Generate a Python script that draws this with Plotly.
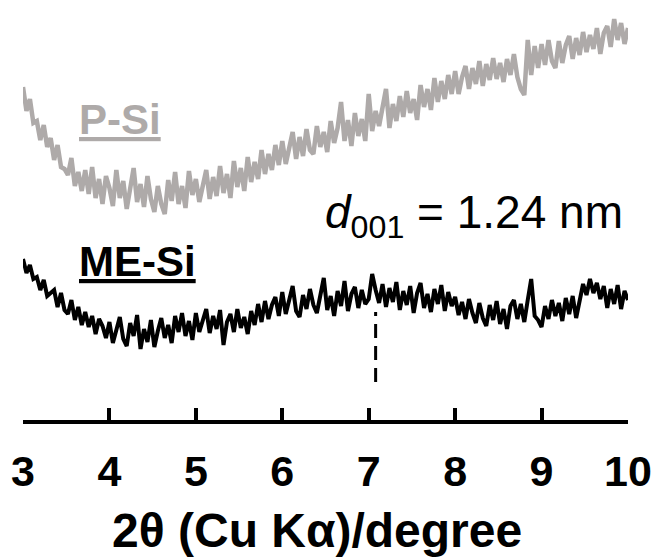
import numpy as np
import plotly.graph_objects as go

# 2-theta grid (degrees), step 0.04
two_theta = np.round(np.arange(0, 176) * 0.04 + 3.0, 2)

# P-Si intensity (a.u., offset trace)
p_si = [
    333, 309, 321, 297, 299, 280, 295, 273, 282, 260, 275, 253, 251, 245, 262, 234, 248, 229, 250, 226, 253, 222, 241, 216, 244,
    232, 214, 250, 222, 239, 211, 230, 252, 218, 236, 213, 244, 221, 208, 234, 216, 206, 240, 219, 248, 216, 234, 212, 249, 225,
    241, 218, 236, 250, 221, 243, 224, 254, 227, 246, 222, 259, 233, 252, 229, 263, 238, 258, 241, 270, 246, 266, 250, 275, 255,
    279, 256, 275, 288, 261, 283, 264, 291, 270, 266, 294, 273, 288, 268, 299, 277, 292, 318, 279, 300, 274, 307, 284, 301, 279,
    326, 289, 309, 294, 314, 331, 292, 316, 299, 324, 303, 329, 307, 321, 300, 335, 313, 331, 310, 342, 318, 339, 321, 345, 326,
    349, 326, 343, 354, 331, 352, 336, 359, 334, 356, 340, 362, 341, 357, 338, 361, 345, 366, 343, 331, 325, 380, 345, 374, 352,
    376, 355, 380, 359, 352, 379, 357, 375, 384, 361, 382, 365, 388, 368, 385, 371, 392, 366, 387, 394, 373, 401, 380, 397, 376,
    392,
]

# ME-Si intensity (a.u., offset trace)
me_si = [
    161, 147, 155, 141, 143, 130, 140, 124, 127, 130, 113, 127, 110, 106, 120, 100, 113, 95, 108, 93, 104, 86, 101, 94, 82,
    98, 77, 92, 103, 81, 74, 97, 84, 105, 71, 91, 78, 100, 73, 89, 102, 82, 95, 77, 104, 88, 107, 84, 99, 80,
    107, 88, 101, 111, 87, 104, 91, 110, 75, 98, 106, 88, 111, 92, 103, 86, 109, 95, 116, 98, 119, 101, 115, 123, 104,
    128, 106, 119, 134, 109, 103, 125, 111, 131, 115, 107, 127, 142, 110, 124, 104, 129, 114, 139, 109, 126, 133, 112, 130, 116,
    121, 146, 130, 117, 136, 113, 132, 118, 138, 110, 129, 115, 134, 107, 127, 137, 112, 126, 108, 131, 116, 135, 109, 128, 114,
    123, 105, 118, 101, 121, 107, 97, 117, 102, 94, 115, 100, 119, 96, 111, 91, 114, 120, 101, 116, 98, 120, 141, 104, 100,
    93, 114, 101, 120, 104, 117, 99, 122, 106, 124, 102, 119, 136, 125, 141, 127, 137, 121, 134, 112, 131, 116, 135, 111, 129,
    120,
]

# d001 reflection marker
peak_x = [7.08, 7.08]
peak_y = [38, 108]

tick_vals = [3, 4, 5, 6, 7, 8, 9, 10]
tick_text = ["3", "4", "5", "6", "7", "8", "9", "10"]

FONT = "Arial, Liberation Sans, sans-serif"
GRAY = "#aeaaa9"

fig = go.Figure()
fig.add_trace(go.Scatter(x=two_theta, y=p_si, mode="lines",
                         line=dict(color=GRAY, width=4.5), showlegend=False, hoverinfo="skip"))
fig.add_trace(go.Scatter(x=two_theta, y=me_si, mode="lines",
                         line=dict(color="black", width=4), showlegend=False, hoverinfo="skip"))
fig.add_trace(go.Scatter(x=peak_x, y=peak_y, mode="lines",
                         line=dict(color="black", width=3, dash="14px,8px"), showlegend=False, hoverinfo="skip"))

fig.add_annotation(x=3.62, y=301, xref="x", yref="y", xanchor="left", yanchor="middle",
                   text="<b><u>P-Si</u></b>", showarrow=False,
                   font=dict(family=FONT, size=42, color=GRAY))
fig.add_annotation(x=3.62, y=159, xref="x", yref="y", xanchor="left", yanchor="middle",
                   text="<b><u>ME-Si</u></b>", showarrow=False,
                   font=dict(family=FONT, size=42, color="black"))
fig.add_annotation(x=6.47, y=205, xref="x", yref="y", xanchor="left", yanchor="middle",
                   text="<i>d</i><sub>001</sub> = 1.24 nm", showarrow=False,
                   font=dict(family=FONT, size=46, color="black"))
# x-axis title
fig.add_annotation(x=0.486, y=-0.33, xref="paper", yref="paper", xanchor="center", yanchor="bottom",
                   text="<b>2θ (Cu Kα)/degree</b>", showarrow=False,
                   font=dict(family=FONT, size=48, color="black"))

fig.update_xaxes(range=[3, 10], tickvals=tick_vals, ticktext=tick_text,
                 showline=True, linecolor="black", linewidth=4,
                 ticks="inside", ticklen=12, tickwidth=3.5, tickcolor="black",
                 showgrid=False, zeroline=False, ticklabelstandoff=10,
                 tickfont=dict(family=FONT, size=43, color="black", weight="bold"))
fig.update_yaxes(range=[0, 420], visible=False, showgrid=False, zeroline=False)

fig.update_layout(width=656, height=560, margin=dict(l=23, r=28, t=0, b=140),
                  paper_bgcolor="white", plot_bgcolor="white")

fig.write_html("out.html")
